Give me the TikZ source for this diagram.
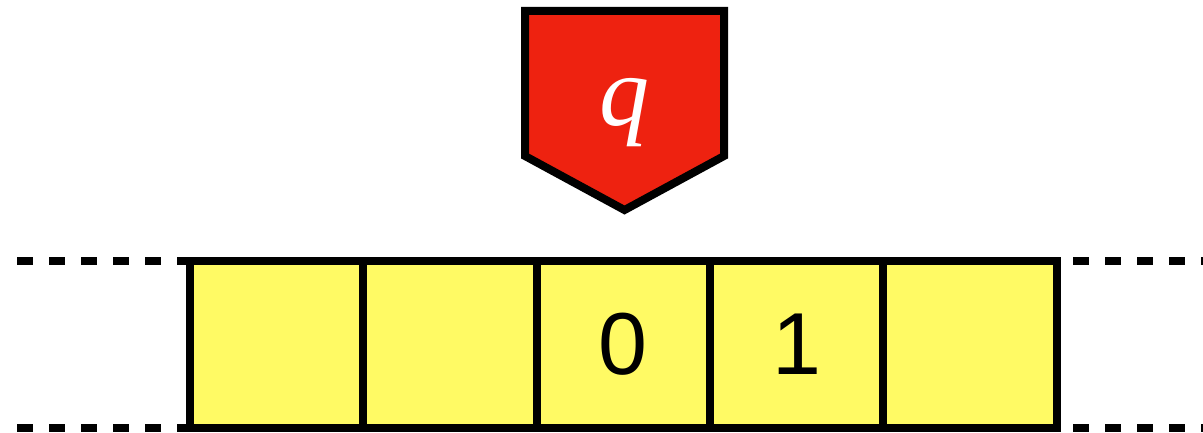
\documentclass[tikz,border=0pt]{standalone}
\usepackage{fontspec}
\setmainfont{Liberation Serif}
\newfontfamily\digitfont{Liberation Sans}
\definecolor{headred}{RGB}{238,34,16}
\definecolor{tapeyellow}{RGB}{255,250,100}
\begin{document}
\begin{tikzpicture}[x=0.5pt,y=-0.5pt,
  cellbox/.style={draw=black,line width=4pt,fill=tapeyellow,minimum width=86.65pt,minimum height=83.75pt,inner sep=0pt,outer sep=0pt},
  dashline/.style={line width=4pt,dash pattern=on 8pt off 8pt},
  digit/.style={font=\digitfont\fontsize{44}{44}\selectfont,inner sep=0pt}]
\useasboundingbox (0,0) rectangle (1203,433);
% tape cells
\foreach \i/\x in {1/276.65,2/449.95,3/623.25,4/796.55,5/969.85}{
  \node[cellbox] (c\i) at (\x,344.25) {};
}
\node[digit] (d0) at (c3.center) {0};
\node[digit] (d1) at (c4.center) {1};
% dashed continuation
\coordinate (ltA) at (17,260.5);
\coordinate (lbA) at (17,428);
\coordinate (rtA) at (1073,260.5);
\coordinate (rbA) at (1073,428);
\coordinate (rtB) at (1210,260.5);
\coordinate (rbB) at (1210,428);
\draw[dashline] (ltA) -- (c1.north west);
\draw[dashline] (lbA) -- (c1.south west);
\draw[dashline] (rtA) -- (rtB);
\draw[dashline] (rbA) -- (rbB);
% head
\coordinate (h1) at (525,11);
\coordinate (h2) at (724,11);
\coordinate (h3) at (724,156);
\coordinate (h4) at (624.5,210);
\coordinate (h5) at (525,156);
\draw[line width=4pt,fill=headred,miter limit=10] (h1) -- (h2) -- (h3) -- (h4) -- (h5) -- cycle;
\node[text=white,font=\itshape\fontsize{50}{50}\selectfont,anchor=base,inner sep=0pt] (q) at (624,126) {q};
\end{tikzpicture}
\end{document}
